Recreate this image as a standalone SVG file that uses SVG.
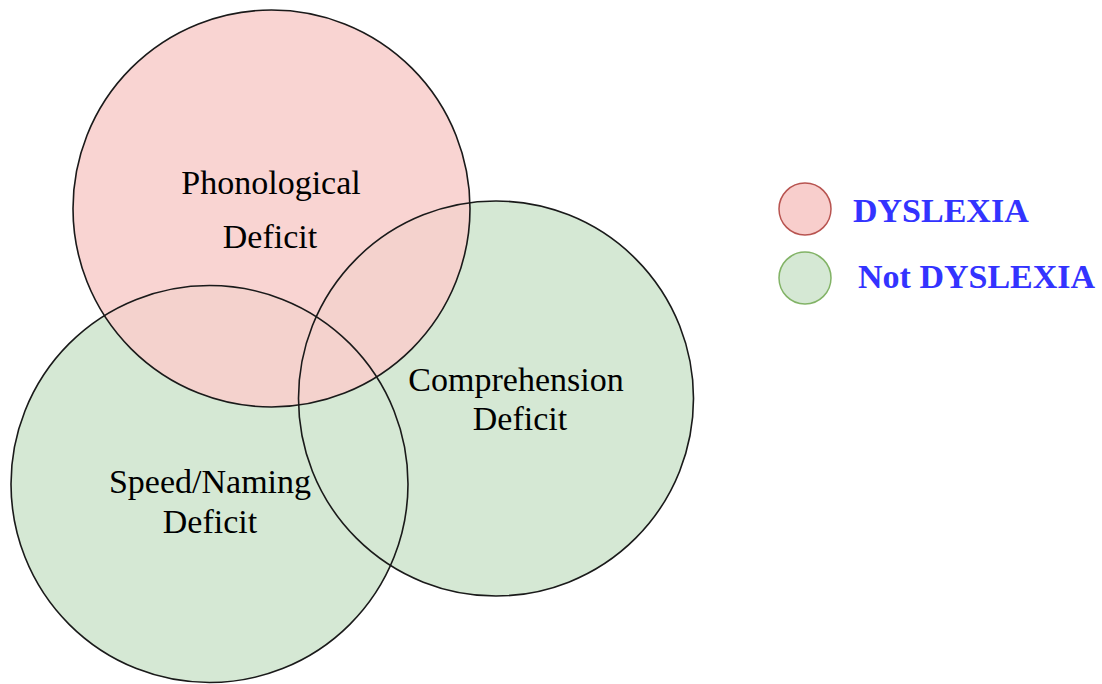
<svg xmlns="http://www.w3.org/2000/svg" width="1102" height="684" viewBox="0 0 1102 684">
  <style>
    .edge { fill: none; stroke: #1a1a1a; stroke-width: 1.6; }
    .green { fill: #d5e8d4; }
    .pink { fill: #f8cecc; fill-opacity: 0.88; }
    .label { font-family: "Liberation Serif", "Times New Roman", serif; font-size: 34px; fill: #000; text-anchor: middle; }
    .key { font-family: "Liberation Serif", "Times New Roman", serif; font-size: 34px; font-weight: bold; fill: #3333ff; }
  </style>
  <defs>
    <circle id="c-speed" cx="209.5" cy="484" r="198.5"/>
    <circle id="c-comp" cx="496" cy="398.5" r="197.5"/>
    <circle id="c-phon" cx="271.5" cy="208.5" r="198.5"/>
  </defs>
  <rect width="1102" height="684" fill="#ffffff"/>

  <!-- Venn set fills -->
  <g id="speed-naming">
    <use href="#c-speed" class="green"/>
  </g>
  <g id="comprehension">
    <use href="#c-comp" class="green"/>
  </g>
  <g id="phonological">
    <use href="#c-phon" class="pink"/>
  </g>

  <!-- every set outline stays visible over the fills -->
  <g id="set-outlines">
    <use href="#c-speed" class="edge"/>
    <use href="#c-comp" class="edge"/>
    <use href="#c-phon" class="edge"/>
  </g>

  <!-- Set labels -->
  <g id="phonological-label">
    <text class="label" x="271" y="194">Phonological</text>
    <text class="label" x="270" y="248">Deficit</text>
  </g>
  <g id="comprehension-label">
    <text class="label" x="516" y="391">Comprehension</text>
    <text class="label" x="520" y="430">Deficit</text>
  </g>
  <g id="speed-naming-label">
    <text class="label" x="210" y="493">Speed/Naming</text>
    <text class="label" x="210" y="533">Deficit</text>
  </g>

  <!-- Legend -->
  <g id="legend-dyslexia">
    <circle cx="805" cy="209" r="26" fill="#f8cecc" stroke="#b85450" stroke-width="1.5"/>
    <text class="key" x="853" y="222">DYSLEXIA</text>
  </g>
  <g id="legend-not-dyslexia">
    <circle cx="805" cy="278" r="26" fill="#d5e8d4" stroke="#82b366" stroke-width="1.5"/>
    <text class="key" x="858" y="288">Not DYSLEXIA</text>
  </g>

  <g id="connectors"/>
</svg>
